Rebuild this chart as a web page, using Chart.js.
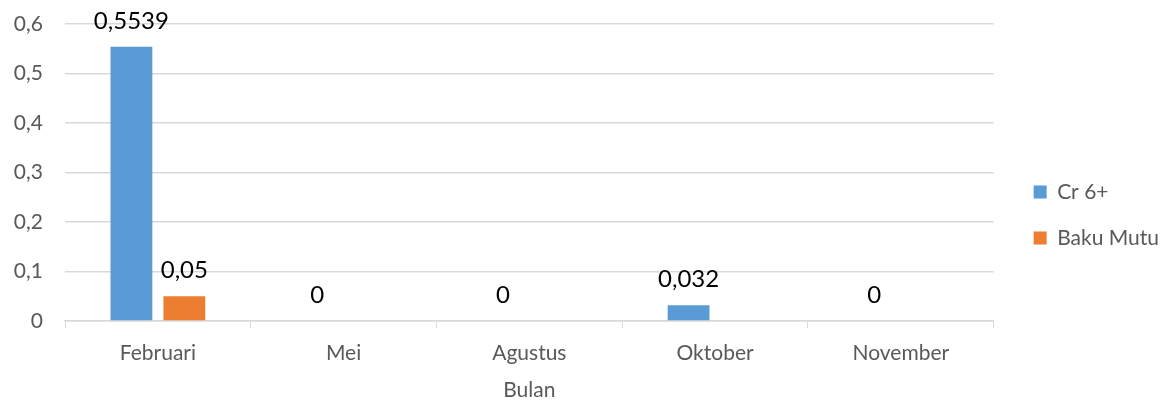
<!DOCTYPE html>
<html>
<head>
<meta charset="utf-8">
<script src="https://cdn.jsdelivr.net/npm/chart.js@4"></script>
<style>
  html, body { margin: 0; padding: 0; background: #fff; }
  #wrap { width: 1169px; height: 406px; }
</style>
</head>
<body>
<div id="wrap"><canvas id="chart"></canvas></div>
<script>
// data
const bulan = ["Februari", "Mei", "Agustus", "Oktober", "November"];
const cr6 = [0.5539, 0, 0, 0.032, 0];
const bakuMutu = [0.05, null, null, null, null];
const yTicks = [0, 0.1, 0.2, 0.3, 0.4, 0.5, 0.6];

const font = "Lato";
const koma = v => String(v).replace(".", ",");

// label angka di atas batang
const labelBatang = {
  id: "labelBatang",
  afterDatasetsDraw(chart) {
    const ctx = chart.ctx;
    ctx.save();
    ctx.font = "24px " + font;
    ctx.fillStyle = "#000";
    ctx.textAlign = "center";
    ctx.textBaseline = "middle";
    chart.data.datasets.forEach((ds, i) => {
      chart.getDatasetMeta(i).data.forEach((bar, j) => {
        const v = ds.data[j];
        if (v === null) return;
        ctx.fillText(koma(v), bar.x, bar.y - 26);
      });
    });
    ctx.restore();
  }
};

new Chart(document.getElementById("chart"), {
  type: "bar",
  data: {
    labels: bulan,
    datasets: [
      { label: "Cr 6+", data: cr6, backgroundColor: "#5b9bd5" },
      { label: "Baku Mutu", data: bakuMutu, backgroundColor: "#ed7d31" }
    ]
  },
  options: {
    responsive: true,
    maintainAspectRatio: false,
    animation: false,
    categoryPercentage: 0.57,
    barPercentage: 0.79,
    layout: { padding: { top: 24, right: 0, bottom: 0, left: 0 } },
    plugins: {
      tooltip: { enabled: false },
      legend: {
        position: "right",
        labels: {
          boxWidth: 13,
          boxHeight: 13,
          padding: 25,
          color: "#595959",
          font: { family: font, size: 21 }
        }
      }
    },
    scales: {
      x: {
        grid: { drawOnChartArea: false, drawTicks: true, tickLength: 7, color: "#d9d9d9" },
        border: { color: "#d9d9d9", width: 1.5 },
        ticks: { color: "#595959", padding: 13, font: { family: font, size: 21 } },
        title: {
          display: true, text: "Bulan", color: "#595959",
          padding: { top: 4, bottom: 3 }, font: { family: font, size: 21 }
        },
        afterFit: s => { s.height = 85; }
      },
      y: {
        min: 0,
        max: 0.6,
        afterBuildTicks: s => { s.ticks = yTicks.map(v => ({ value: v })); },
        grid: { color: "#d9d9d9", drawTicks: false, lineWidth: 1.5 },
        border: { display: false },
        ticks: {
          color: "#595959", padding: 22, font: { family: font, size: 21 },
          callback: v => v === 0 ? "0" : v.toFixed(1).replace(".", ",")
        },
        afterFit: s => { s.width = 65; s.paddingTop = 0; s.paddingBottom = 0; }
      },
      jarak: {
        position: "right",
        display: true,
        grid: { display: false },
        border: { display: false },
        ticks: { display: false },
        afterFit: s => { s.width = 15; s.paddingTop = 0; s.paddingBottom = 0; }
      }
    }
  },
  plugins: [labelBatang]
});
</script>
</body>
</html>
